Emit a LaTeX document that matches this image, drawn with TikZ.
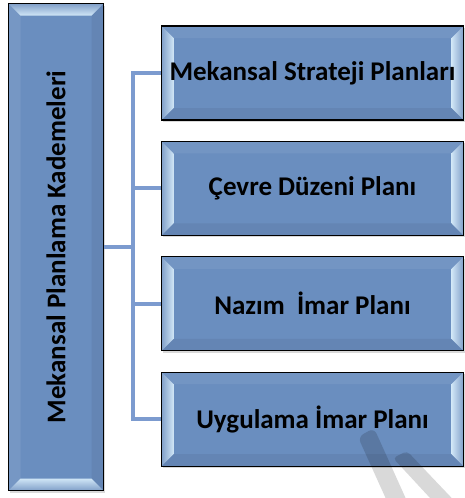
\documentclass[tikz,border=0pt]{standalone}
\usepackage{fontspec}
\setmainfont{Carlito}
\usetikzlibrary{calc,positioning,shadows}
\definecolor{kutu}{RGB}{106,142,191}
\definecolor{parlak}{RGB}{208,230,246}
\definecolor{hat}{RGB}{124,155,207}

\begin{document}
\begin{tikzpicture}[x=1pt,y=-1pt,
  kademe/.style={draw=black,line width=1.1pt,fill=kutu,inner sep=0pt,
    font=\bfseries\fontsize{27}{31}\selectfont,
    drop shadow={opacity=0.3,shadow xshift=1.5pt,shadow yshift=-2pt}},
  yatay/.style={kademe,minimum width=302pt,minimum height=94pt,
    path picture={
      \coordinate (kb) at (path picture bounding box.north west);
      \coordinate (ks) at (path picture bounding box.south east);
      \fill[kutu!94!white] (kb) -- ++(12,12) -- ($(ks|-kb)+(-12,12)$) -- (ks|-kb) -- cycle;
      \fill[kutu!94!black] (kb|-ks) -- ++(12,-12) -- ($(ks)+(-12,-12)$) -- (ks) -- cycle;
      \shade[left color=kutu!85!white,right color=parlak] (kb) -- ++(12,12) -- ($(kb|-ks)+(12,-12)$) -- (kb|-ks) -- cycle;
      \shade[left color=parlak,right color=kutu!85!white] (ks) -- ++(-12,-12) -- ($(ks|-kb)+(-12,12)$) -- (ks|-kb) -- cycle;
    }},
  dikey/.style={kademe,minimum width=95pt,minimum height=487pt,
    path picture={
      \coordinate (kb) at (path picture bounding box.north west);
      \coordinate (ks) at (path picture bounding box.south east);
      \fill[kutu!92!white] (kb) -- ++(12,12) -- ($(kb|-ks)+(12,-12)$) -- (kb|-ks) -- cycle;
      \fill[kutu!94!black] (ks) -- ++(-12,-12) -- ($(ks|-kb)+(-12,12)$) -- (ks|-kb) -- cycle;
      \shade[top color=kutu!85!white,bottom color=parlak] (kb) -- ++(12,12) -- ($(ks|-kb)+(-12,12)$) -- (ks|-kb) -- cycle;
      \shade[top color=parlak,bottom color=kutu!85!white] (kb|-ks) -- ++(12,-12) -- ($(ks)+(-12,-12)$) -- (ks) -- cycle;
    }},
  baglanti/.style={draw=hat,line width=4pt}]
\useasboundingbox (0,0) rectangle (465,498);

\node[dikey] (kademeler) at (56,247) {\rotatebox{90}{Mekansal Planlama Kademeleri}};

\foreach \t [count=\i] in {Mekansal Strateji Planları,Çevre Düzeni Planı,Nazım\ \ İmar Planı,Uygulama İmar Planı}
{
  \node[yatay] (plan\i) at ({312.5},{73+115.4*(\i-1)}) {\t};
  \draw[baglanti] (kademeler.east) -- ++(29,0) |- (plan\i.west);
}

% gri filigran
\begin{scope}
\clip (0,0) rectangle (465,498);
\fill[black,opacity=0.15,rounded corners=6pt] (358,437) -- (374,428) -- (411,510) -- (391,510) -- cycle;
\fill[black,opacity=0.15,rounded corners=4pt] (393,458) -- (407,451) -- (465,512) -- (443,512) -- cycle;
\end{scope}
\end{tikzpicture}
\end{document}
